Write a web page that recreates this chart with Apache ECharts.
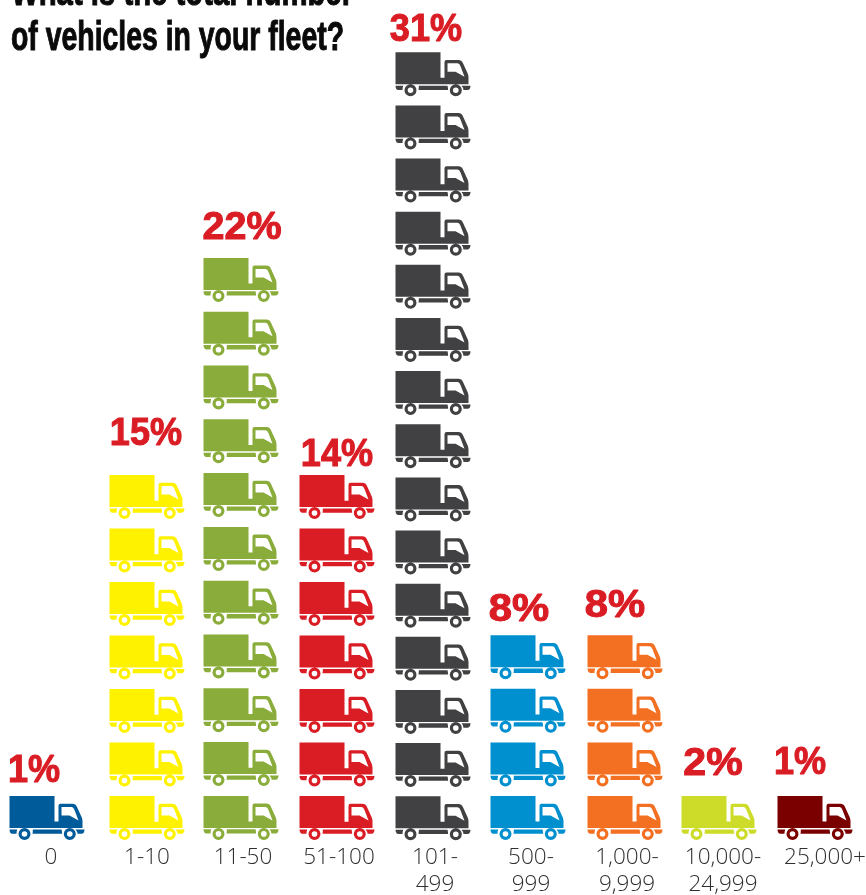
<!DOCTYPE html>
<html>
<head>
<meta charset="utf-8">
<style>html,body{margin:0;padding:0;background:#fff}#chart{width:866px;height:895px}</style>
<script src="https://cdn.jsdelivr.net/npm/echarts@6/dist/echarts.min.js"></script>
</head>
<body>
<div id="chart"></div>
<script>
// Share of respondents per fleet size; one truck stands for about 2.15%, part-trucks round up.
const fleetSizes = ['0', '1-10', '11-50', '51-100', '101-\n499', '500-\n999', '1,000-\n9,999', '10,000-\n24,999', '25,000+'];
const percents = [1, 15, 22, 14, 31, 8, 8, 2, 1];
const percentPerTruck = 2.15;
const titleLines = ['What is the total number', 'of vehicles in your fleet?'];

const colours = ['#005b9a', '#fff200', '#8aac3a', '#da1c24', '#414042', '#0090cf', '#f36f21', '#cddc29', '#7a0000'];
const rowPitch = [53.6, 53.5, 53.8, 53.5, 53.14, 53.6, 53.6, 53.6, 53.6];
const truckNudgeX = [-4, 0, -2, -2, -2, -3, -2, -4, -4];
const labelNudge = [[-17, -20], [-1, -35.3], [-1, -24], [-2, -15], [-9, -17], [-12, -20], [-12, -24], [-10, -27], [-19, -28]];
const captionStretch = [0.95, 0.95, 1.04, 0.95, 0.95, 1.1, 1.1, 1.08, 0.95];
const titleStretch = [0.733, 0.71];

const gridHeight = 844.8;
const axisMax = 33.85;
const pxPerPercent = gridHeight / axisMax;

// Box, cab with window, chassis pieces and the two wheels with their hubs.
const truckPath = 'path://M0 0H45V32H0Z' +
  'M49 7.7H63Q66 7.7 67.5 11L72.3 21.5Q73 23.5 73 25.5V32H45V25.6H49V9.7Q49 7.7 51 7.7Z' +
  'M52 11V19.5H60L69 24.5L65 14Q64 11 62 11Z' +
  'M0 33.4H7.7Q7 35.5 7 37.7H2.5Q0 37 0 33.4Z' +
  'M23.3 33.4H52Q52.6 35.5 52.6 37.7H23Q23.4 35.5 23.3 33.4Z' +
  'M66 33.4H75Q75 37 72.5 37.7H68Q68 35.5 66 33.4Z' +
  'M9 38A6 6 0 1 1 21 38A6 6 0 1 1 9 38Z' +
  'M12.2 38A2.8 2.8 0 1 0 17.8 38A2.8 2.8 0 1 0 12.2 38Z' +
  'M54.3 38A6 6 0 1 1 66.3 38A6 6 0 1 1 54.3 38Z' +
  'M57.5 38A2.8 2.8 0 1 0 63.1 38A2.8 2.8 0 1 0 57.5 38Z';

const truckCounts = percents.map(p => Math.ceil(p / percentPerTruck));
const stackTop = percents.map((p, i) => truckCounts[i] * rowPitch[i] / pxPerPercent);

const chart = echarts.init(document.getElementById('chart'), null, { renderer: 'canvas' });
chart.setOption({
  animation: false,
  backgroundColor: '#fff',
  graphic: titleLines.map((line, i) => ({
    type: 'text',
    x: 11,
    y: -28.5 + i * 45,
    scaleX: titleStretch[i],
    silent: true,
    style: {
      text: line,
      fontFamily: '"Liberation Sans",sans-serif',
      fontWeight: 'bold',
      fontSize: 40,
      lineHeight: 45,
      fill: '#0a0a0a',
      stroke: '#0a0a0a',
      lineWidth: 1
    }
  })),
  grid: { left: 3, width: 864, top: 0, height: gridHeight, outerBoundsMode: 'none' },
  xAxis: {
    type: 'category',
    data: fleetSizes,
    axisLine: { show: false },
    axisTick: { show: false },
    axisLabel: {
      interval: 0,
      margin: -1,
      fontFamily: '"Open Sans",sans-serif',
      fontWeight: 300,
      fontSize: 22.5,
      lineHeight: 27,
      color: '#2f2f31',
      formatter: v => v === '25,000+' ? '{shifted|' + v + '}' : v,
      rich: { shifted: { padding: [0, 0, 0, 12], fontFamily: '"Open Sans",sans-serif', fontWeight: 300, fontSize: 22.5, color: '#2f2f31' } }
    }
  },
  yAxis: { type: 'value', min: 0, max: axisMax, show: false },
  series: [
    {
      type: 'pictorialBar',
      silent: true,
      symbol: truckPath,
      symbolSize: [75, 44],
      symbolMargin: '5%!',
      barCategoryGap: 0,
      data: percents.map((p, i) => ({
        value: p,
        symbolRepeat: truckCounts[i],
        symbolBoundingData: stackTop[i],
        symbolOffset: [truckNudgeX[i], 0],
        itemStyle: { color: colours[i] }
      }))
    },
    {
      // Percentage captions sit just above each stack.
      type: 'custom',
      silent: true,
      clip: false,
      encode: { x: 0, y: 1 },
      data: percents.map((p, i) => [i, stackTop[i], p]),
      renderItem: (params, api) => {
        const i = api.value(0);
        const at = api.coord([i, api.value(1)]);
        return {
          type: 'text',
          x: at[0] + labelNudge[i][0],
          y: at[1] + labelNudge[i][1],
          scaleX: captionStretch[i],
          style: {
            text: api.value(2) + '%',
            fontFamily: '"Liberation Sans",sans-serif',
            fontWeight: 'bold',
            fontSize: 38,
            align: 'center',
            verticalAlign: 'middle',
            fill: '#da1c24',
            stroke: '#da1c24',
            lineWidth: 1
          }
        };
      }
    }
  ]
});
</script>
</body>
</html>
